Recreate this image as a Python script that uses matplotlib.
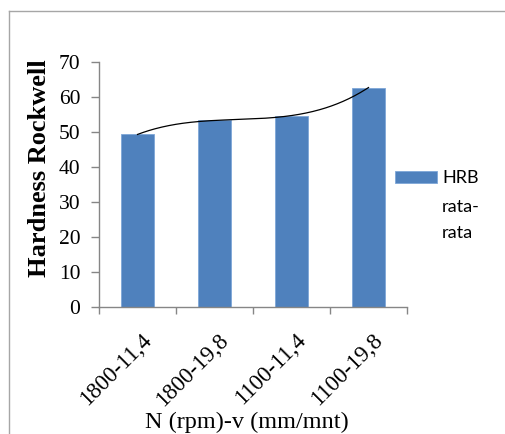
import matplotlib
matplotlib.use("Agg")
import matplotlib.pyplot as plt
import numpy as np
from matplotlib.patches import Rectangle
from matplotlib.lines import Line2D
from matplotlib.transforms import ScaledTranslation

categories = ["1800-11,4", "1800-19,8", "1100-11,4", "1100-19,8"]
hrb_values = [49.3, 53.3, 54.7, 62.7]
legend_lines = ["HRB", "rata-", "rata"]
y_ticks = [0, 10, 20, 30, 40, 50, 60, 70]

W, H = 505, 434
fig = plt.figure(figsize=(W / 100, H / 100), dpi=100)
fig.patch.set_facecolor("white")

def fx(px):
    return px / W

def fy(py):
    return 1 - py / H

ax = fig.add_axes([fx(99), fy(307), (407 - 99) / W, (307 - 62) / H])

bar_color = "#4F81BD"
xpos = np.arange(len(categories)) + 0.5
ax.bar(xpos, hrb_values, width=0.42, color=bar_color, edgecolor="#7EA6D8",
       linewidth=0.6, zorder=2)

# cubic (order 3) polynomial trendline, fitted to the data
coef = np.polyfit(xpos, hrb_values, 3)
xs = np.linspace(xpos[0], xpos[-1], 200)
ax.plot(xs, np.polyval(coef, xs), color="black", linewidth=0.9, zorder=3)

ax.set_xlim(0, len(categories))
ax.set_ylim(0, 70)

spine_c = "#868686"
for s in ["top", "right"]:
    ax.spines[s].set_visible(False)
for s in ["left", "bottom"]:
    ax.spines[s].set_color(spine_c)
    ax.spines[s].set_linewidth(1.0)

serif = "Liberation Serif"
ax.set_yticks(y_ticks)
ax.set_yticklabels([str(v) for v in y_ticks], fontfamily=serif, fontsize=15.5)
ax.tick_params(axis="y", direction="out", length=5.5, width=1.0, color=spine_c, pad=8)

ax.set_xticks(np.arange(len(categories) + 1))
ax.set_xticklabels([])
ax.set_xticks(xpos, minor=True)
ax.set_xticklabels(categories, minor=True, fontfamily=serif, fontsize=16.5)
ax.tick_params(axis="x", which="major", direction="out", length=5, width=1.0, color=spine_c)
ax.tick_params(axis="x", which="minor", length=0, pad=0)
off = ScaledTranslation(11 / 100, -30 / 100, fig.dpi_scale_trans)
for lab in ax.get_xticklabels(minor=True):
    lab.set_rotation(45)
    lab.set_rotation_mode("anchor")
    lab.set_ha("right")
    lab.set_va("center")
    lab.set_transform(lab.get_transform() + off)

ax.set_ylabel("Hardness Rockwell", fontfamily=serif, fontweight="bold", fontsize=19)
ax.yaxis.set_label_coords((51 - 99) / 308, (307 - 168) / 245)

fig.text(fx(246.5), fy(428), "N (rpm)-v (mm/mnt)", fontfamily=serif, fontsize=17.5,
         ha="center", va="baseline")

# legend
fig.patches.append(Rectangle((fx(395), fy(183)), (437 - 395) / W, 12 / H,
                             transform=fig.transFigure, facecolor=bar_color,
                             edgecolor="#7EA6D8", linewidth=0.6))
for txt, base in zip(legend_lines, [183.3, 211.7, 238.3]):
    fig.text(fx(442), fy(base), txt, fontfamily="Lato", fontsize=13,
             ha="left", va="baseline", color="black")

# outer chart border (left and top)
border_c = "#A6A6A6"
fig.lines.append(Line2D([fx(8.5), fx(8.5)], [fy(10.5), 0], transform=fig.transFigure,
                        color=border_c, linewidth=1.0))
fig.lines.append(Line2D([fx(8.5), 1], [fy(10.5), fy(10.5)], transform=fig.transFigure,
                        color=border_c, linewidth=1.0))

fig.savefig("out.png", dpi=100, facecolor="white")
